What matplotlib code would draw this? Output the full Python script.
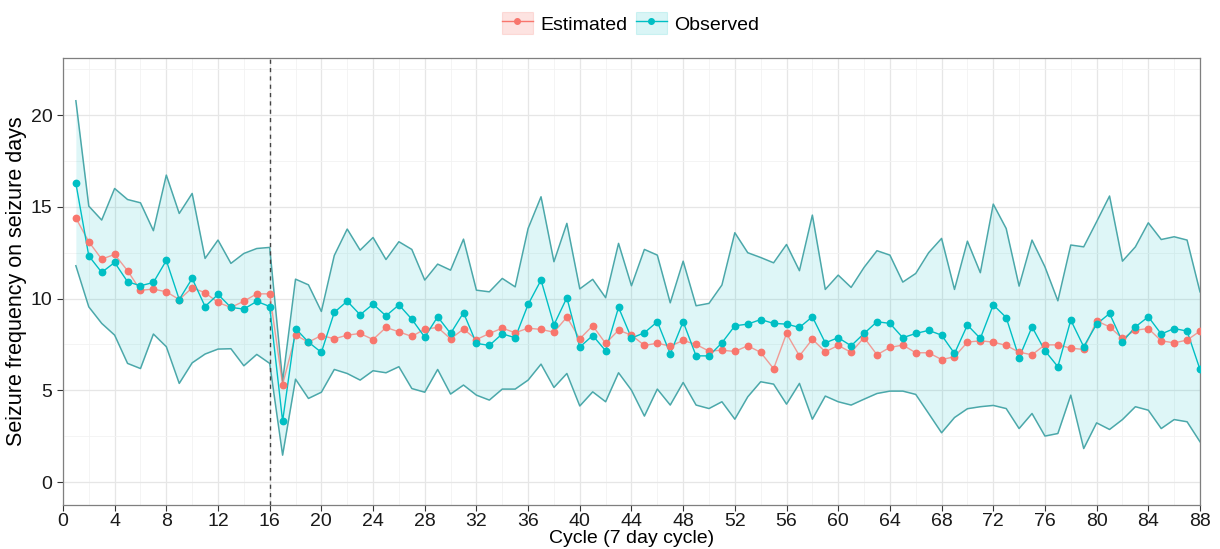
import numpy as np
import matplotlib.pyplot as plt
from matplotlib.patches import Patch
from matplotlib.lines import Line2D
from matplotlib.ticker import MultipleLocator

plt.rcParams['font.family'] = ['Liberation Sans', 'DejaVu Sans']

cycle = np.arange(1, 89)

observed = [16.28, 12.33, 11.43, 11.97, 10.92, 10.70, 10.88, 12.08, 9.95, 11.10,
            9.57, 10.23, 9.52, 9.43, 9.85, 9.57, 3.32, 8.37, 7.63, 7.07,
            9.25, 9.86, 9.12, 9.70, 9.06, 9.66, 8.88, 7.90, 9.01, 8.10,
            9.23, 7.56, 7.45, 8.08, 7.87, 9.68, 11.01, 8.57, 10.05, 7.36,
            7.99, 7.16, 9.52, 7.85, 8.14, 8.74, 6.99, 8.74, 6.88, 6.88,
            7.59, 8.52, 8.61, 8.86, 8.65, 8.61, 8.43, 9.01, 7.59, 7.87,
            7.43, 8.10, 8.74, 8.65, 7.87, 8.10, 8.27, 8.01, 7.01, 8.56,
            7.83, 9.66, 8.97, 6.78, 8.46, 7.16, 6.29, 8.83, 7.38, 8.61,
            9.19, 7.65, 8.46, 9.01, 8.07, 8.37, 8.23, 6.14]

estimated = [14.39, 13.10, 12.15, 12.41, 11.52, 10.45, 10.52, 10.37, 9.95, 10.59,
             10.32, 9.79, 9.52, 9.86, 10.26, 10.26, 5.32, 8.01, 7.63, 7.99,
             7.81, 8.01, 8.10, 7.77, 8.43, 8.19, 7.94, 8.34, 8.43, 7.81,
             8.34, 7.77, 8.10, 8.39, 8.14, 8.39, 8.32, 8.17, 8.99, 7.81,
             8.52, 7.56, 8.28, 8.01, 7.45, 7.57, 7.41, 7.72, 7.50, 7.14,
             7.19, 7.12, 7.43, 7.07, 6.18, 8.10, 6.88, 7.79, 7.10, 7.45,
             7.07, 7.88, 6.94, 7.34, 7.47, 7.05, 7.05, 6.68, 6.83, 7.63,
             7.70, 7.63, 7.45, 7.08, 6.94, 7.48, 7.48, 7.30, 7.23, 8.79,
             8.46, 7.83, 8.28, 8.37, 7.70, 7.59, 7.74, 8.23]

upper = [20.78, 15.04, 14.28, 16.00, 15.40, 15.22, 13.70, 16.73, 14.64, 15.73,
         12.19, 13.19, 11.92, 12.46, 12.73, 12.79, 5.50, 11.06, 10.75, 9.30,
         12.35, 13.79, 12.64, 13.33, 12.13, 13.10, 12.68, 11.01, 11.88, 11.55,
         13.24, 10.46, 10.37, 11.10, 10.64, 13.82, 15.55, 12.01, 14.10, 10.53,
         11.05, 10.05, 13.01, 10.70, 12.68, 12.37, 9.77, 12.04, 9.61, 9.74,
         10.74, 13.59, 12.50, 12.24, 11.95, 12.95, 11.52, 14.55, 10.50, 11.28,
         10.61, 11.70, 12.61, 12.37, 10.90, 11.37, 12.50, 13.28, 10.50, 13.13,
         11.41, 15.15, 13.82, 10.68, 13.19, 11.73, 9.88, 12.92, 12.82, 14.19,
         15.59, 12.04, 12.82, 14.13, 13.22, 13.37, 13.19, 10.37]

lower = [11.79, 9.55, 8.65, 8.01, 6.47, 6.19, 8.07, 7.38, 5.38, 6.50,
         6.98, 7.25, 7.27, 6.34, 6.96, 6.47, 1.47, 5.61, 4.56, 4.90,
         6.14, 5.92, 5.56, 6.07, 5.96, 6.29, 5.10, 4.90, 6.14, 4.80,
         5.29, 4.74, 4.47, 5.07, 5.07, 5.56, 6.43, 5.16, 5.92, 4.15,
         4.92, 4.38, 5.96, 5.01, 3.60, 5.07, 4.20, 5.43, 4.20, 4.01,
         4.38, 3.43, 4.65, 5.47, 5.34, 4.25, 5.38, 3.43, 4.69, 4.38,
         4.20, 4.52, 4.83, 4.96, 4.96, 4.78, 3.74, 2.69, 3.52, 4.00,
         4.11, 4.18, 4.01, 2.92, 3.74, 2.51, 2.65, 4.74, 1.83, 3.23,
         2.87, 3.41, 4.11, 3.92, 2.92, 3.41, 3.29, 2.20]

red = '#F8766D'
teal = '#00BFC4'
edge = '#4BA8AA'

fig = plt.figure(figsize=(12.2, 5.49), dpi=100)
ax = fig.add_axes([0.0516, 0.080, 0.932, 0.814])

ax.fill_between(cycle, lower, upper, color=teal, alpha=0.13, lw=0, zorder=2)
ax.plot(cycle, upper, color=edge, lw=1.1, zorder=3)
ax.plot(cycle, lower, color=edge, lw=1.1, zorder=3)

ax.plot(cycle, estimated, color=red, lw=1.0, alpha=0.7, zorder=4)
ax.plot(cycle, estimated, 'o', color=red, ms=4.6, zorder=5)
ax.plot(cycle, observed, color=teal, lw=1.0, zorder=4)
ax.plot(cycle, observed, 'o', color=teal, ms=4.6, zorder=5)

ax.axvline(16, color='#444444', ls=(0, (3, 3)), lw=1.0, zorder=3)

ax.set_xlim(0, 88)
ax.set_ylim(-1.25, 23.1)
ax.xaxis.set_major_locator(MultipleLocator(4))
ax.xaxis.set_minor_locator(MultipleLocator(2))
ax.yaxis.set_major_locator(MultipleLocator(5))
ax.yaxis.set_minor_locator(MultipleLocator(2.5))
ax.grid(which='major', color='#e6e6e6', lw=0.9, zorder=0)
ax.grid(which='minor', color='#f2f2f2', lw=0.6, zorder=0)
ax.set_axisbelow(True)
for s in ax.spines.values():
    s.set_color('#7f7f7f')
    s.set_linewidth(0.9)
ax.tick_params(which='major', labelsize=14, color='#333333', length=4, labelcolor='#1a1a1a')
ax.tick_params(which='minor', length=0)
ax.tick_params(axis='x', pad=2)

ax.set_xlabel('Cycle (7 day cycle)', fontsize=14, labelpad=0)
ax.set_ylabel('Seizure frequency on seizure days', fontsize=15.5, labelpad=3)

h_est = (Patch(facecolor=red, alpha=0.2, edgecolor=red, lw=0.8),
         Line2D([], [], color=red, marker='o', ms=4, lw=1))
h_obs = (Patch(facecolor=teal, alpha=0.15, edgecolor=teal, lw=0.8),
         Line2D([], [], color=teal, marker='o', ms=4, lw=1))
fig.legend([h_est, h_obs], ['Estimated', 'Observed'], loc='center',
           bbox_to_anchor=(0.517, 0.958), ncol=2, frameon=False, fontsize=14,
           handlelength=1.6, handleheight=1.4, columnspacing=0.4, handletextpad=0.4)

fig.savefig('out.png', dpi=100)
